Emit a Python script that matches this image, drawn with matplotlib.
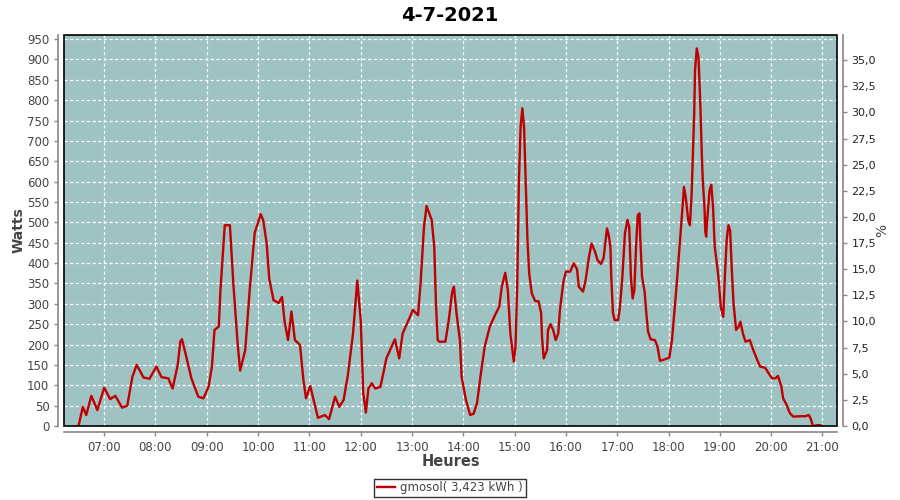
import matplotlib
matplotlib.use("Agg")
import matplotlib.pyplot as plt
from matplotlib.ticker import FixedLocator, FuncFormatter
from matplotlib.patches import Rectangle

# time in minutes since midnight, power in watts
minutes = [390, 395, 399, 405, 412, 420, 427, 433, 441, 447, 453, 458, 466, 473, 481,
           487, 495, 500, 506, 509, 511, 516, 522, 530, 536, 542, 546, 549, 554, 556,
           561, 567, 571, 576, 579, 585, 590, 596, 603, 606, 610, 613, 618, 624, 628,
           631, 635, 639, 643, 649, 653, 656, 661, 664, 670, 678, 683, 690, 695, 700,
           705, 711, 716, 720, 723, 726, 729, 733, 737, 743, 746, 750, 757, 760, 765,
           769, 776, 781, 787, 790, 794, 797, 803, 806, 808, 810, 812, 819, 823, 827,
           829, 832, 836, 838, 843, 848, 852, 856, 860, 865, 871, 877, 882, 885, 889,
           892, 895, 899, 901, 903, 905, 907, 909, 911, 913, 915, 917, 920, 924, 928,
           931, 932, 934, 938, 939, 942, 945, 948, 951, 953, 957, 960, 965, 969, 973,
           975, 980, 983, 987, 990, 994, 997, 1001, 1004, 1008, 1010, 1012, 1013, 1015,
           1017, 1021, 1023, 1026, 1029, 1032, 1034, 1036, 1038, 1040, 1042, 1044, 1046,
           1047, 1049, 1052, 1054, 1056, 1059, 1064, 1067, 1070, 1076, 1081, 1084, 1086,
           1089, 1092, 1095, 1097, 1098, 1100, 1103, 1105, 1107, 1108, 1110, 1111, 1113,
           1115, 1117, 1119, 1120, 1122, 1123, 1124, 1125, 1128, 1130, 1132, 1134, 1137,
           1139, 1141, 1144, 1146, 1148, 1150, 1152, 1154, 1156, 1159, 1162, 1164, 1167,
           1170, 1175, 1179, 1183, 1187, 1193, 1196, 1201, 1205, 1208, 1212, 1214, 1218,
           1222, 1226, 1234, 1240, 1244, 1246, 1249, 1254, 1257, 1260]
watts = [0, 47, 27, 74, 39, 94, 66, 74, 45, 50, 121, 150, 119, 116, 146,
         120, 117, 92, 150, 207, 213, 170, 117, 72, 68, 96, 146, 236, 244, 334,
         493, 493, 351, 204, 136, 187, 330, 474, 520, 505, 449, 362, 309, 302, 317,
         256, 211, 281, 211, 199, 113, 68, 98, 72, 20, 27, 17, 72, 47, 64,
         125, 227, 357, 260, 80, 33, 92, 105, 92, 96, 125, 166, 199, 213, 166,
         227, 260, 285, 272, 350, 489, 540, 506, 440, 300, 211, 207, 207, 260, 330,
         342, 277, 211, 121, 64, 27, 30, 56, 121, 195, 244, 272, 293, 342, 376,
         334, 227, 158, 195, 342, 600, 735, 780, 735, 596, 457, 375, 326, 307, 306,
         277, 219, 166, 187, 236, 250, 236, 211, 227, 285, 354, 379, 379, 399, 385,
         342, 330, 358, 416, 448, 428, 407, 398, 412, 485, 469, 440, 366, 277,
         260, 260, 289, 366, 473, 506, 489, 366, 313, 334, 440, 518, 522,
         457, 366, 330, 277, 232, 213, 211, 195, 160, 164, 168, 211, 260,
         334, 416, 501, 555, 587, 563, 506, 493, 571, 636, 767, 874, 927,
         906, 800, 661, 604, 538, 477, 465, 501, 579, 592, 538, 440, 391,
         350, 293, 268, 375, 457, 493, 480, 383, 301, 236, 244, 256, 227,
         207, 211, 187, 166, 146, 143, 133, 117, 117, 123, 96, 68, 52,
         31, 23, 24, 24, 27, 19, 0, 2, 2, 0]

hour_ticks = list(range(7, 22))
hour_labels = ["%02d:00" % h for h in hour_ticks]
watt_ticks = list(range(0, 951, 50))
pct_ticks = [i * 2.5 for i in range(15)]

title = "4-7-2021"
legend_label = "gmosol( 3,423 kWh )"

bg = "#9ec3c2"
line_color = "#c00000"
axis_grey = "#888888"
text_grey = "#444444"

fig = plt.figure(figsize=(9, 5), dpi=100)
ax = fig.add_axes([64/900, 1-426/500, (837-64)/900, (426-35)/500])
ax.set_facecolor(bg)

ax.plot(minutes, watts, color=line_color, lw=1.7, label=legend_label)

ax.set_xlim(373, 1277)
ax.set_ylim(0, 960)
ax.xaxis.set_major_locator(FixedLocator([h * 60 for h in hour_ticks]))
ax.set_xticklabels(hour_labels)
ax.yaxis.set_major_locator(FixedLocator(watt_ticks))

ax.grid(True, color="white", linestyle=(0, (2.5, 2)), linewidth=0.9)
ax.set_axisbelow(True)

for s in ax.spines.values():
    s.set_visible(False)
for side in ("left", "bottom"):
    ax.spines[side].set_visible(True)
    ax.spines[side].set_position(("outward", 4))
    ax.spines[side].set_color(axis_grey)
    ax.spines[side].set_linewidth(1.2)

ax.add_patch(Rectangle((0, 0), 1, 1, transform=ax.transAxes, fill=False,
                       edgecolor="black", linewidth=1.2, zorder=5, clip_on=False))

ax.tick_params(axis="both", colors=axis_grey, labelcolor=text_grey,
               labelsize=8.5, length=3, width=1)
ax.set_ylabel("Watts", fontsize=10, fontweight="bold", color=text_grey)
ax.yaxis.set_label_coords(-0.05, 0.5)
ax.set_xlabel("Heures", fontsize=10.5, fontweight="bold", color=text_grey)
ax.xaxis.set_label_coords(0.5, -0.072)

ax2 = ax.twinx()
ax2.set_ylim(0, 37.4)
ax2.yaxis.set_major_locator(FixedLocator(pct_ticks))
ax2.yaxis.set_major_formatter(FuncFormatter(lambda v, p: ("%.1f" % v).replace(".", ",")))
for s in ax2.spines.values():
    s.set_visible(False)
ax2.spines["right"].set_visible(True)
ax2.spines["right"].set_position(("outward", 4))
ax2.spines["right"].set_color(axis_grey)
ax2.spines["right"].set_linewidth(1.2)
ax2.tick_params(axis="y", colors=axis_grey, labelcolor="#222222", labelsize=8,
                length=3, width=1)
ax2.set_ylabel("%", fontsize=10, color=text_grey)
ax2.yaxis.set_label_coords(1.05, 0.5)

fig.suptitle(title, x=0.5, y=0.988, fontsize=14, fontweight="bold")

leg = fig.legend(loc="center", bbox_to_anchor=(0.5, 1 - 488/500),
                 frameon=True, fancybox=False, fontsize=8.5, handlelength=1.5,
                 borderpad=0.25, handletextpad=0.4, borderaxespad=0)
leg.get_frame().set_edgecolor("black")
leg.get_frame().set_linewidth(1.0)
for t in leg.get_texts():
    t.set_color(text_grey)

fig.savefig("out.png", dpi=100)
